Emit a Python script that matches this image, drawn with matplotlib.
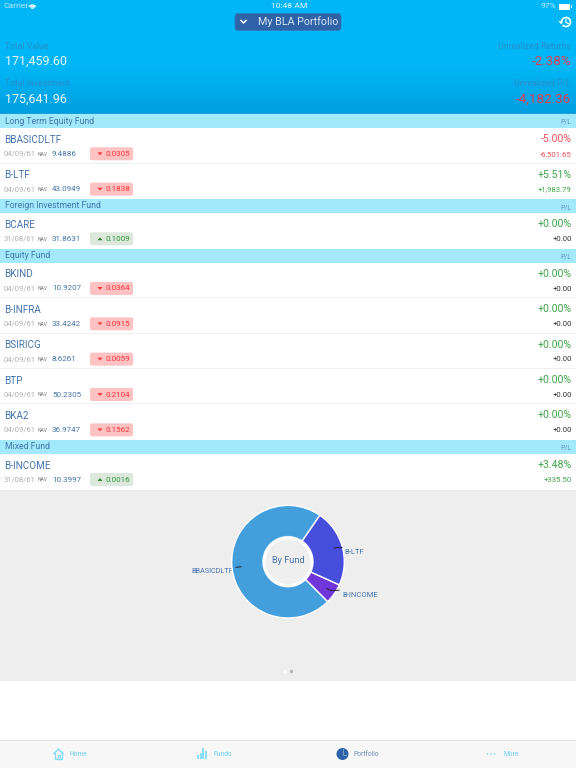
import numpy as np
import matplotlib
matplotlib.use("Agg")
import matplotlib.pyplot as plt
from matplotlib import font_manager as fm
from matplotlib.patches import Rectangle, FancyBboxPatch, Circle, Polygon, Arc

plt.rcParams['font.family'] = ['Roboto', 'DejaVu Sans']

# ---- data ----
summary_left = [("Total Value", "171,459.60"), ("Total Investment", "175,641.96")]
summary_right = [("Unrealized Returns", "-2.38%"), ("Unrealized P/L", "-4,182.36")]
sections = ["Long Term Equity Fund", "Foreign Investment Fund", "Equity Fund", "Mixed Fund"]
section_rows = [2, 1, 5, 1]
names = ["BBASICDLTF", "B-LTF", "BCARE", "BKIND", "B-INFRA", "BSIRICG", "BTP", "BKA2", "B-INCOME"]
dates = ["04/09/61", "04/09/61", "31/08/61", "04/09/61", "04/09/61", "04/09/61", "04/09/61", "04/09/61", "31/08/61"]
navs = ["9.4886", "43.0949", "31.8631", "10.9207", "33.4242", "8.6261", "50.2305", "36.9747", "10.3997"]
changes = ["0.0305", "0.1838", "0.1009", "0.0364", "0.0915", "0.0059", "0.2104", "0.1562", "0.0016"]
directions = [-1, -1, 1, -1, -1, -1, -1, -1, 1]
pct = ["-5.00%", "+5.51%", "+0.00%", "+0.00%", "+0.00%", "+0.00%", "+0.00%", "+0.00%", "+3.48%"]
pl = ["-6,501.65", "+1,983.79", "+0.00", "+0.00", "+0.00", "+0.00", "+0.00", "+0.00", "+335.50"]
pie_labels = ["BBASICDLTF", "B-INCOME", "B-LTF"]
pie_values = [123530, 9940, 37990]
pie_colors = ["#459EDC", "#7136DA", "#474EDC"]
tabs = ["Home", "Funds", "Portfolio", "More"]

W, H = 576, 768
fig = plt.figure(figsize=(W / 100, H / 100), dpi=100, facecolor="white")
ax = fig.add_axes([0, 0, 1, 1])
ax.set_xlim(0, W)
ax.set_ylim(H, 0)
ax.axis("off")

BLUE = "#4474AC"
RED = "#F2505C"
GREEN = "#3FA34A"

try:
    fm.findfont("Liberation Sans Narrow", fallback_to_default=False)
    DIN = "Liberation Sans Narrow"
    K = 1.0
except ValueError:
    DIN = "Roboto"
    K = 0.86


def T(x, y, s, size, color, ha="left", **kw):
    return ax.text(x, y, s, fontsize=size * 0.72, color=color, ha=ha, va="center", **kw)


def D(x, y, s, size, color, ha="left", **kw):
    return ax.text(x, y, s, fontsize=size * 0.72 * K, color=color, ha=ha, va="center",
                   family=[DIN, "DejaVu Sans"], **kw)


# header gradient
g = np.linspace(0, 1, 114)[:, None]
top = np.array([0, 182, 246]) / 255
bot = np.array([0, 158, 224]) / 255
w = np.clip((g - 0.6) / 0.4, 0, 1)
img = (top[None, :] * (1 - w) + bot[None, :] * w)[:, None, :]
ax.imshow(img, extent=(0, W, 114, 0), aspect="auto", zorder=0)
ax.set_xlim(0, W)
ax.set_ylim(H, 0)

# status bar
T(4, 6.5, "Carrier", 8.5, "#BFE8FB")
T(289, 6.5, "10:48 AM", 8.5, "#E8F8FE", ha="center")
T(556, 6.5, "97%", 8.5, "#BFE8FB", ha="right")
for r in (3, 6, 9):
    ax.add_patch(Arc((32.5, 9.5), r, r, theta1=220, theta2=320, color="white", lw=0.9))
ax.add_patch(Rectangle((559, 4), 11, 5.5, fc="white", ec="none"))
ax.add_patch(Rectangle((570.5, 5.3), 1, 3, fc="#CFEFFC", ec="none"))

# portfolio selector
ax.add_patch(FancyBboxPatch((235, 13.5), 106, 17, boxstyle="round,pad=0,rounding_size=3",
                            fc="#2F62A6", ec="#2A7CC0", lw=0.6))
ax.plot([241, 243.5, 246], [20.5, 23, 20.5], color="white", lw=1.1)
D(298, 21.5, "My BLA Portfolio", 12.5, "#D7E6F4", ha="center")

# history icon
ax.add_patch(Arc((566, 22), 9, 9, theta1=-200, theta2=140, color="white", lw=1.2))
ax.plot([566, 566, 568.5], [19.5, 22.5, 23.5], color="white", lw=0.9)
ax.add_patch(Polygon([[558.5, 21], [563, 21], [560.8, 24]], fc="white", ec="none"))

# summary
for i, ((ll, lv), (rl, rv)) in enumerate(zip(summary_left, summary_right)):
    y0 = 46.5 + i * 37.5
    D(5, y0, ll, 10, "#2A8CCB")
    D(5, y0 + 15, lv, 14.5, "#EAF8FE")
    D(571, y0, rl, 10, "#2A8CCB", ha="right")
    D(571, y0 + 15, rv, 15.5, "#E23A55", ha="right")

ax.add_patch(Rectangle((0, 113), W, 1, fc="#1AA0DF", ec="none"))

# table
y = 114.0
row_h = 35.35
band_h = 14.3
idx = 0
for sec, n in zip(sections, section_rows):
    ax.add_patch(Rectangle((0, y), W, band_h, fc="#A3E9FC", ec="none"))
    D(5, y + 7, sec, 10, "#3F78AE")
    D(571, y + 8.5, "P/L", 8, "#5D93C2", ha="right")
    y += band_h
    for k in range(n):
        up = directions[idx] > 0
        D(4, y + 11.5, names[idx], 11.5, BLUE)
        T(4, y + 25.5, dates[idx], 7.6, "#B0B0B0")
        T(37.5, y + 25.8, "NAV", 5, "#777777")
        T(52, y + 25.5, navs[idx], 8, BLUE)
        fc = "#DCE8DC" if up else "#FFC2C2"
        tc = "#2F9A3A" if up else "#F4323C"
        ax.add_patch(FancyBboxPatch((90, y + 19), 43, 13, boxstyle="round,pad=0,rounding_size=2",
                                    fc=fc, ec="none"))
        cx, cy = 100, y + 25.5
        d = 1.8 if up else -1.8
        ax.add_patch(Polygon([[cx - 2.5, cy + d * 0.8], [cx + 2.5, cy + d * 0.8], [cx, cy - d * 0.8]],
                             fc=tc if not up else "#2E7D32", ec="none"))
        T(106, y + 25.5, changes[idx], 8, tc)
        pc = RED if pct[idx].startswith("-") else GREEN
        T(572, y + 11, pct[idx], 10.5, pc, ha="right")
        lc = "#F2515C" if pl[idx].startswith("-") else (GREEN if pl[idx] != "+0.00" else "#333333")
        T(572, y + 25.8, pl[idx], 7.8, lc, ha="right")
        y += row_h
        idx += 1
        if k < n - 1:
            ax.add_patch(Rectangle((0, round(y) - 1), W, 1, fc="#EFEFEF", ec="none"))

# chart panel
ax.add_patch(Rectangle((0, 489.5), W, 191, fc="#EEEEEE", ec="none"))

# donut (through the library's pie)
cx_px, cy_px, R = 288, 561.7, 56.3
pie_ax = fig.add_axes([(cx_px - R * 1.1) / W, 1 - (cy_px + R * 1.1) / H, 2.2 * R / W, 2.2 * R / H])
start = 55.5
wedges, _ = pie_ax.pie(pie_values, colors=pie_colors, startangle=start, counterclock=True, radius=1.0,
                       wedgeprops=dict(width=0.56, edgecolor="white", linewidth=1.0), frame=True)
pie_ax.set_xlim(-1.1, 1.1)
pie_ax.set_ylim(-1.1, 1.1)
pie_ax.axis("off")
pie_ax.patch.set_alpha(0)
pie_ax.add_patch(Circle((0, 0), 0.46, fc="#FFFFFF", alpha=0.45, ec="none", zorder=5))
pie_ax.add_patch(Circle((0, 0), 0.41, fc="#EFEFEF", ec="white", lw=1.0, zorder=6))
pie_ax.text(0, 0.02, "By Fund", fontsize=6.6, color=BLUE, ha="center", va="center", zorder=7)

# pie labels and leader ticks
T(233, 571.5, pie_labels[0], 7.3, BLUE, ha="right")
T(344, 551.7, pie_labels[2], 7.6, BLUE)
T(342, 595, pie_labels[1], 7.6, BLUE)
ax_top = fig.add_axes([0, 0, 1, 1])
ax_top.set_xlim(0, W)
ax_top.set_ylim(H, 0)
ax_top.axis("off")
ax_top.patch.set_alpha(0)
ax_top.plot([236, 241], [567.3, 566.8], color="#222233", lw=0.7)
ax_top.plot([334, 337, 342], [548.2, 547.5, 547.5], color="#222233", lw=0.7)
ax_top.plot([327, 329, 332, 339], [588.5, 590, 590.5, 590.2], color="#222233", lw=0.7)

# page dots
ax.add_patch(Circle((285, 671.5), 1.7, fc="#FFFFFF", ec="none"))
ax.add_patch(Circle((291.5, 671.5), 1.7, fc="#B5B5B5", ec="none"))

# tab bar
ax.add_patch(Rectangle((0, 740), W, 28, fc="#F7F7F7", ec="none"))
ax.add_patch(Rectangle((0, 740), W, 1, fc="#DEDEDE", ec="none"))
tab_x = [70, 214, 354, 503]
TAB = "#8ADCF7"
for i, (t, x) in enumerate(zip(tabs, tab_x)):
    T(x, 754, t, 6.8, "#6F8FB8" if i == 2 else "#6FCFF2")
# home
ax.add_patch(Polygon([[53.5, 754], [58.5, 749], [63.5, 754]], closed=False, fc="none", ec=TAB, lw=1.1))
ax.plot([55, 55, 62, 62], [753, 759, 759, 753], color=TAB, lw=1.0)
ax.plot([57.5, 57.5, 59.5, 59.5], [759, 755, 755, 759], color=TAB, lw=0.8)
# funds
for px, h in zip([198, 200.5, 203, 205.5], [4, 6, 11, 8]):
    ax.add_patch(Rectangle((px - 1, 759 - h), 2.4, h, fc=TAB, ec="none"))
# portfolio
ax.add_patch(Circle((342.5, 754), 6, fc="#2C62A8", ec="none"))
ax.plot([343, 343, 346], [749, 754.5, 754.5], color="#9DBBDD", lw=0.5)
# more
for px in (487.5, 491, 494.5):
    ax.add_patch(Circle((px, 754), 0.8, fc=TAB, ec="none"))

fig.savefig("out.png", dpi=100)
